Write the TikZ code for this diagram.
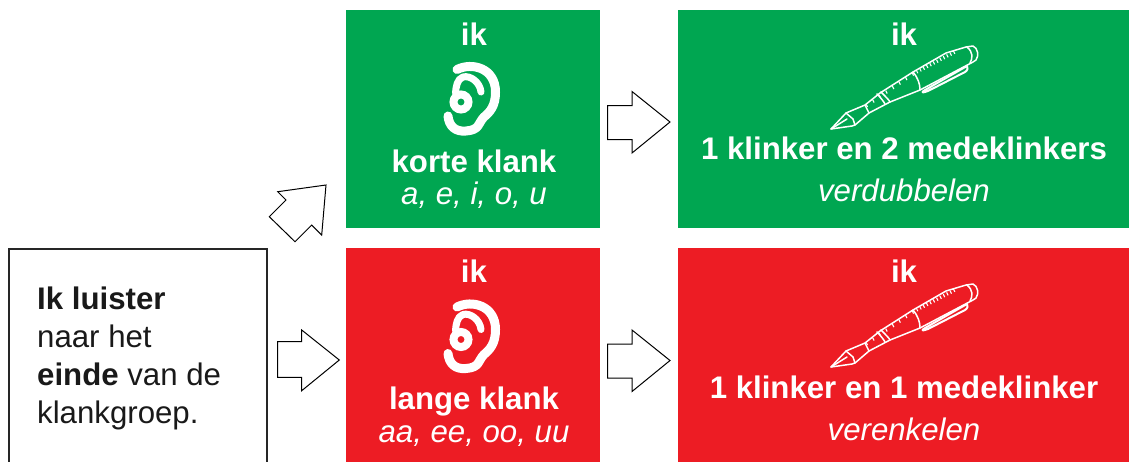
\documentclass[tikz,border=0pt]{standalone}
\usepackage{fontspec}
\setmainfont{Liberation Sans}
\usetikzlibrary{calc}
\definecolor{bgreen}{HTML}{00A651}
\definecolor{bred}{HTML}{ED1C24}
\tikzset{
  panel/.style={draw=none,inner sep=0pt,outer sep=0pt,anchor=north west},
  blockarrow/.style={draw=black,line width=1pt,fill=white,line join=miter},
  head/.style={text=white,anchor=base,font=\fontsize{31.2}{31.2}\selectfont\bfseries,inner sep=0pt},
  sub/.style={text=white,anchor=base,font=\fontsize{31.2}{31.2}\selectfont\itshape,inner sep=0pt},
  infotext/.style={text=black!90,anchor=base west,font=\fontsize{31.2}{31.2}\selectfont,inner sep=0pt},
  earline/.style={draw=white,line width=9pt,line cap=round,line join=round},
  penline/.style={draw=white,line width=1.5pt,line join=round,line cap=round},
  pics/ear/.style={code={
    \draw[earline] (457,69.5) .. controls (472,62) and (495.5,68) .. (495.5,92)
      .. controls (495.5,106) and (490,112) .. (484,117)
      .. controls (478,123) and (480,130) .. (466,131)
      .. controls (455,132) and (449,126) .. (448,116);
    \draw[earline,line width=7pt] (481,92) .. controls (480,82) and (470,75) .. (463,77)
      .. controls (457,79) and (456,87) .. (455.5,93);
    \draw[draw=white,line width=8pt] (461,102) circle[radius=7.5];
  }},
  pics/pen/.style={code={
    \draw[penline] (831,129) -- (846,113) -- (853,119) -- (855,125) -- (852,126) -- cycle;
    \draw[penline] (831,129) -- (847,119);
    \draw[penline] (846,113) -- (865,105) -- (869,113) -- (855,125);
    \draw[penline] (865,105) -- (880,93) -- (913,72) -- (946,53) -- (966,47) -- (973,46)
      .. controls (978,48) and (979,56) .. (976,60) -- (973,62) -- (920,90) -- (890,102) -- (869,113);
    \draw[penline] (967,47) .. controls (973,52) and (973,58) .. (970,63);
    \draw[penline] (913,72) .. controls (918,78) and (920,84) .. (920,90);
    \draw[penline] (881,92) .. controls (886,97) and (889,100) .. (890,102);
    \draw[penline] (877,94) .. controls (881,98) and (884,102) .. (885,104);
    \draw[penline,line width=2pt] (967,66) -- (925,90) .. controls (920,93) and (923,93) .. (928,91) -- (965,72) .. controls (968,70) and (968,68) .. (967,66);
    \foreach \t in {0,0.14,...,1.01}{
      \draw[draw=white,line width=1.1pt] ($(866,104)!\t!(913,72)$) -- ++(1.5,3);
    }
    \foreach \t in {0,0.08,...,1.01}{
      \draw[draw=white,line width=1.1pt] ($(913,72)!\t!(955,50)$) -- ++(1.5,3);
    }
  }}
}
\begin{document}
\begin{tikzpicture}[x=1pt,y=-1pt]
\useasboundingbox (0,0) rectangle (1129,461);
\clip (0,0) rectangle (1129,461);
\node[panel,fill=bgreen,minimum width=254pt,minimum height=218pt] (g1) at (346,10) {};
\node[panel,fill=bgreen,minimum width=460pt,minimum height=218pt] (g2) at (678,10) {};
\node[panel,fill=bred,minimum width=254pt,minimum height=220pt] (r1) at (346,248) {};
\node[panel,fill=bred,minimum width=460pt,minimum height=220pt] (r2) at (678,248) {};
\node[panel,draw=black!85,line width=2pt,minimum width=258pt,minimum height=230pt] (info) at (8.5,249) {};
\node[infotext] (t1) at (37,309) {\bfseries Ik luister};
\node[infotext] (t2) at (37,347) {naar het};
\node[infotext] (t3) at (37,385) {\textbf{einde} van de};
\node[infotext] (t4) at (37,423) {klankgroep.};
% block arrows
\draw[blockarrow] (277.7,191.7) -- (326,185) -- (321.7,235) -- (311.7,225) -- (295,241.7) -- (269.3,216.7) -- (286,200) -- cycle;
\draw[blockarrow] (277.7,341.7) -- (301.7,341.7) -- (301.7,330) -- (339.3,360) -- (301.7,390.7) -- (301.7,377.3) -- (277.7,377.3) -- cycle;
\draw[blockarrow] (607.5,105.5) -- (632,105.5) -- (632,91.5) -- (670,122) -- (632,153) -- (632,139.5) -- (607.5,139.5) -- cycle;
\draw[blockarrow] (607.5,344) -- (632,344) -- (632,330) -- (670,360.5) -- (632,391.5) -- (632,378) -- (607.5,378) -- cycle;
% green column 1
\node[head] (a1) at (474,45) {ik};
\pic at (0,0) {ear};
\node[head] (a2) at (474,172) {korte klank};
\node[sub] (a3) at (474,204) {a, e, i, o, u};
% green column 2
\node[head] (b1) at (904,45) {ik};
\pic at (0,0) {pen};
\node[head] (b2) at (904,159) {1 klinker en 2 medeklinkers};
\node[sub] (b3) at (904,201) {verdubbelen};
% red column 1
\node[head] (c1) at (474,282) {ik};
\pic at (0,237.5) {ear};
\node[head] (c2) at (474,409) {lange klank};
\node[sub] (c3) at (474,442) {aa, ee, oo, uu};
% red column 2
\node[head] (d1) at (904,282) {ik};
\pic at (0,238) {pen};
\node[head] (d2) at (904,398) {1 klinker en 1 medeklinker};
\node[sub] (d3) at (904,440) {verenkelen};
\end{tikzpicture}
\end{document}
